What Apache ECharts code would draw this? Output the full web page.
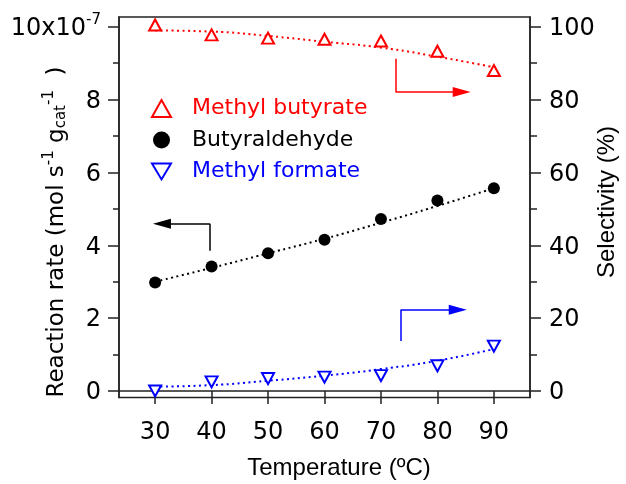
<!DOCTYPE html>
<html>
<head>
<meta charset="utf-8">
<script src="https://cdn.jsdelivr.net/npm/echarts@6/dist/echarts.min.js"></script>
<style>
html, body { margin: 0; padding: 0; background: #fff; }
#chart { width: 626px; height: 484px; }
</style>
</head>
<body>
<div id="chart"></div>
<script>
const temperature = [30, 40, 50, 60, 70, 80, 90]
// reaction rate (x10^-7 mol s-1 gcat-1)
const butyraldehyde = [2.98, 3.42, 3.78, 4.15, 4.72, 5.23, 5.57]
const butyraldehydeFit = [3.0, 3.38, 3.78, 4.18, 4.62, 5.08, 5.57]
// selectivity (%)
const methylButyrate = [100.5, 97.8, 96.9, 96.6, 96.1, 93.3, 88.0]
const methylButyrateFit = [99.0, 98.7, 97.5, 95.9, 94.3, 91.8, 88.9]
const methylFormate = [0, 2.5, 3.4, 3.8, 4.2, 6.9, 12.3]
const methylFormateFit = [1.2, 1.6, 2.8, 4.2, 6.0, 8.3, 11.5]

const xTicks = [30, 40, 50, 60, 70, 80, 90]
const rateTicks = [0, 2, 4, 6, 8, 10]
const rateMinor = [1, 3, 5, 7, 9]
const selTicks = [0, 20, 40, 60, 80, 100]
const selMinor = [10, 30, 50, 70, 90]

// arrow annotations: start, corner, arrow head (data coords)
const rateArrow = [[39.7, 3.85], [39.7, 4.59], [31.2, 4.59]]
const butyrateArrow = [[72.6, 91.2], [72.6, 82.1], [84.3, 82.1]]
const formateArrow = [[73.5, 13.7], [73.5, 22.3], [83.6, 22.3]]

const RED = '#ff0000'
const BLUE = '#0000ff'
const AXIS = '#222'
const DV = 'DejaVu Sans'
const invTriangle = 'path://M0,0L12,0L6,10Z'

const zip = (xs, ys) => xs.map((x, i) => [x, ys[i]])

function arrowLines (pts, color) {
  return {
    silent: true,
    animation: false,
    symbol: ['none', 'none'],
    lineStyle: { color: color, width: 1.5, type: 'solid' },
    label: { show: false },
    emphasis: { disabled: true },
    data: [
      [{ coord: pts[0] }, { coord: pts[1] }],
      [{ coord: pts[1] }, { coord: pts[2], symbol: 'triangle', symbolSize: [10, 18] }]
    ]
  }
}

function fitLine (name, data, yIdx, color, arrow) {
  return {
    name: name,
    type: 'line',
    yAxisIndex: yIdx,
    data: data,
    smooth: true,
    showSymbol: false,
    silent: true,
    z: 1,
    lineStyle: { color: color, width: 2, type: [2, 3.5] },
    markLine: arrowLines(arrow, color)
  }
}

const tickLabel = {
  fontFamily: DV,
  fontSize: 24,
  color: '#000',
  rich: {
    a: { fontFamily: DV, fontSize: 24, lineHeight: 28, verticalAlign: 'bottom', color: '#000' },
    s: { fontFamily: DV, fontSize: 15, lineHeight: 15, verticalAlign: 'top', padding: [0, 0, 23, 0], color: '#000' }
  }
}

const chart = echarts.init(document.getElementById('chart'), null, { renderer: 'canvas' })

const option = {
  animation: false,
  backgroundColor: '#fff',
  grid: {
    left: 119,
    right: 96,
    top: 17,
    bottom: 86.5,
    show: true,
    borderColor: AXIS,
    borderWidth: 1.5
  },
  legend: {
    orient: 'vertical',
    left: 146,
    top: 92,
    itemWidth: 19,
    itemHeight: 17,
    itemGap: 8.5,
    selectedMode: false,
    textStyle: { fontFamily: DV, fontSize: 22, lineHeight: 23, padding: [0, 0, 0, 16] },
    data: [
      { name: 'Methyl butyrate', textStyle: { color: RED } },
      { name: 'Butyraldehyde', textStyle: { color: '#000' } },
      { name: 'Methyl formate', textStyle: { color: BLUE } }
    ]
  },
  xAxis: {
    type: 'value',
    min: 23.6,
    max: 96.4,
    axisLine: { lineStyle: { color: AXIS, width: 1.5 } },
    axisTick: { customValues: xTicks, length: 13, lineStyle: { color: AXIS, width: 1.5 } },
    axisLabel: Object.assign({ customValues: xTicks, margin: 23 }, tickLabel),
    splitLine: { show: false }
  },
  yAxis: [
    {
      type: 'value',
      position: 'left',
      min: -0.18,
      max: 10.27,
      axisLine: { show: true, lineStyle: { color: AXIS, width: 1.5 } },
      axisTick: { customValues: rateTicks, length: 11, lineStyle: { color: AXIS, width: 1.5 } },
      axisLabel: Object.assign({
        customValues: rateTicks,
        margin: 18,
        formatter: v => v === 10 ? '{a|10x10}{s|-7}' : '{a|' + v + '}'
      }, tickLabel),
      splitLine: { show: false }
    },
    {
      type: 'value',
      position: 'right',
      min: -1.8,
      max: 102.7,
      axisLine: { show: true, lineStyle: { color: AXIS, width: 1.5 } },
      axisTick: { customValues: selTicks, length: 11, lineStyle: { color: AXIS, width: 1.5 } },
      axisLabel: Object.assign({
        customValues: selTicks,
        margin: 19,
        formatter: v => '{a|' + v + '}'
      }, tickLabel),
      splitLine: { show: false }
    },
    {
      type: 'value',
      position: 'left',
      min: -0.18,
      max: 10.27,
      axisLine: { show: false },
      axisTick: { show: true, customValues: rateMinor, length: 6, lineStyle: { color: AXIS, width: 1.5 } },
      axisLabel: { show: false },
      splitLine: { show: false }
    },
    {
      type: 'value',
      position: 'right',
      min: -1.8,
      max: 102.7,
      axisLine: { show: false },
      axisTick: { show: true, customValues: selMinor, length: 7, lineStyle: { color: AXIS, width: 1.5 } },
      axisLabel: { show: false },
      splitLine: { show: false }
    }
  ],
  graphic: [
    {
      type: 'text',
      x: 55,
      y: 232,
      rotation: Math.PI / 2,
      style: {
        text: '{a|Reaction rate (mol s}{sup|-1}{a| g}{sub|cat}{sup|-1}{a|  )}',
        align: 'center',
        verticalAlign: 'middle',
        fill: '#000',
        rich: {
          a: { fontFamily: DV, fontSize: 23, lineHeight: 27, verticalAlign: 'bottom', fill: '#000' },
          sup: { fontFamily: DV, fontSize: 15, lineHeight: 15, verticalAlign: 'top', padding: [0, 0, 24, 0], fill: '#000' },
          sub: { fontFamily: DV, fontSize: 15, lineHeight: 15, verticalAlign: 'bottom', fill: '#000' }
        }
      }
    },
    {
      type: 'text',
      x: 607,
      y: 202,
      rotation: Math.PI / 2,
      style: { text: 'Selectivity (%)', font: '24px "Liberation Sans"', align: 'center', verticalAlign: 'middle', fill: '#000' }
    },
    {
      type: 'text',
      x: 339,
      y: 468,
      style: { text: 'Temperature (\u00baC)', font: '24px "Liberation Sans"', align: 'center', verticalAlign: 'middle', fill: '#000' }
    }
  ],
  series: [
    fitLine('butyrate fit', zip(temperature, methylButyrateFit), 1, RED, butyrateArrow),
    fitLine('butyraldehyde fit', zip(temperature, butyraldehydeFit), 0, '#000', rateArrow),
    fitLine('formate fit', zip(temperature, methylFormateFit), 1, BLUE, formateArrow),
    {
      name: 'Methyl butyrate',
      type: 'scatter',
      yAxisIndex: 1,
      data: zip(temperature, methylButyrate),
      symbol: 'triangle',
      symbolSize: [12, 11],
      z: 3,
      itemStyle: { color: '#fff', borderColor: RED, borderWidth: 2, opacity: 1 }
    },
    {
      name: 'Butyraldehyde',
      type: 'scatter',
      yAxisIndex: 0,
      data: zip(temperature, butyraldehyde),
      symbol: 'circle',
      symbolSize: 12,
      z: 3,
      itemStyle: { color: '#000', opacity: 1 }
    },
    {
      name: 'Methyl formate',
      type: 'scatter',
      yAxisIndex: 1,
      data: zip(temperature, methylFormate),
      symbol: invTriangle,
      symbolSize: [12, 11],
      z: 3,
      itemStyle: { color: '#fff', borderColor: BLUE, borderWidth: 2, opacity: 1 }
    }
  ]
}

chart.setOption(option)
</script>
</body>
</html>
